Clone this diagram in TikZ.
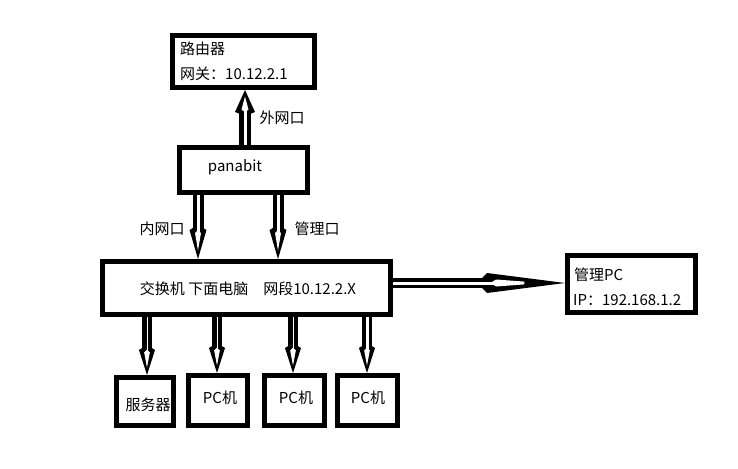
\documentclass[tikz,border=0pt]{standalone}
\usepackage{fontspec}
\setmainfont{Noto Sans CJK SC}
\usetikzlibrary{arrows.meta}
\tikzset{
  box/.style={draw=black, line width=5pt, inner sep=0pt, fill=white},
  lbl/.style={inner sep=0pt, font=\fontsize{15}{17}\selectfont},
}
% start, end, head length, head width, shaft width, core width, inset
\newcommand\fatarr[7]{%
  \pgfmathsetmacro\innerL{#3*0.6}%
  \pgfmathsetmacro\innerW{#4*0.35}%
  \pgfmathsetmacro\innerI{#7*0.6}%
  \pgfmathsetmacro\innerS{#3*0.25}%
  \draw[line width=#5pt, -{Kite[length=#3pt,width=#4pt,inset=#7pt]}] #1 -- #2;
  \draw[line width=#6pt, white, shorten >=\innerS pt, -{Kite[length=\innerL pt,width=\innerW pt,inset=\innerI pt]}] #1 -- #2;
}
\begin{document}
\begin{tikzpicture}[x=1pt,y=-1pt]
\useasboundingbox (0,0) rectangle (738,468);
\fill[white] (0,0) rectangle (738,468);

% boxes
\node[box, minimum width=142pt, minimum height=52pt] (router) at (243.5,61.5) {};
\node[box, minimum width=128pt, minimum height=45pt] (panabit) at (243.5,170) {};
\node[box, minimum width=288pt, minimum height=53pt] (switch) at (246.5,288) {};
\node[box, minimum width=128pt, minimum height=57pt] (mgmt) at (631.5,284) {};
\node[box, minimum width=57pt, minimum height=48pt] (server) at (145,401.5) {};
\node[box, minimum width=59pt, minimum height=50pt] (pca) at (218,400.5) {};
\node[box, minimum width=60pt, minimum height=50pt] (pcb) at (294.5,400.5) {};
\node[box, minimum width=60pt, minimum height=50pt] (pcc) at (367.5,400.5) {};

% texts
\node[lbl, anchor=west] (t1) at (180,49) {路由器};
\node[lbl, anchor=west] (t2) at (180,74) {网关：10.12.2.1};
\node[lbl] (t3) at (235,167) {panabit};
\node[lbl] (t4) at (248,289) {交换机\ 下面电脑\quad 网段10.12.2.X};
\node[lbl, anchor=west] (t5) at (574,275) {管理PC};
\node[lbl, anchor=west] (t6) at (573,300) {IP：192.168.1.2};
\node[lbl] (t7) at (148,405) {服务器};
\node[lbl] (t8) at (220,398) {PC机};
\node[lbl] (t9) at (296,398) {PC机};
\node[lbl] (t10) at (368,398) {PC机};

% port labels
\node[lbl] (l1) at (282,118) {外网口};
\node[lbl] (l2) at (162,229) {内网口};
\node[lbl] (l3) at (317,229) {管理口};

% arrows
\fatarr{(245,0 |- panabit.north)}{(245,0 |- router.south)}{26}{20}{12}{3}{4}
\fatarr{(198,0 |- panabit.south)}{(198,0 |- switch.north)}{34}{17}{11}{3}{5}
\fatarr{(278,0 |- panabit.south)}{(278,0 |- switch.north)}{34}{17}{11}{3}{5}
\fatarr{(0,283 -| switch.east)}{(0,283 -| mgmt.west)}{88}{20}{10}{3}{10}
\fatarr{(147,0 |- switch.south)}{(147,0 |- server.north)}{30}{16}{10}{0.8}{5}
\fatarr{(217,0 |- switch.south)}{(217,0 |- pca.north)}{30}{16}{10}{0.8}{5}
\fatarr{(293,0 |- switch.south)}{(293,0 |- pcb.north)}{30}{16}{10}{0.8}{5}
\fatarr{(367,0 |- switch.south)}{(367,0 |- pcc.north)}{30}{16}{10}{3}{5}
\end{tikzpicture}
\end{document}
